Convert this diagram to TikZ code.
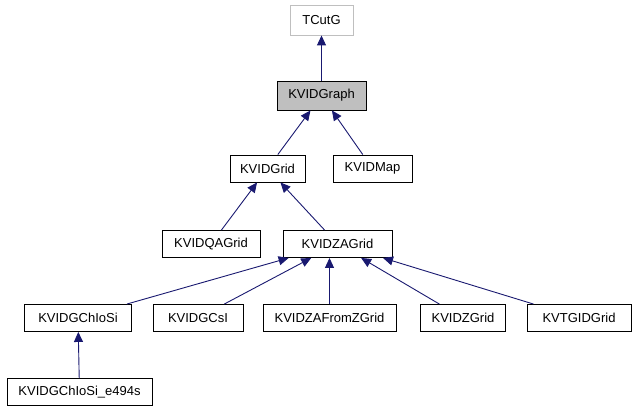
\documentclass[tikz,border=0pt]{standalone}
\usepackage{fontspec}
\setmainfont{Liberation Sans}
\usetikzlibrary{arrows.meta}
\definecolor{edgeblue}{HTML}{191970}
\begin{document}
\begin{tikzpicture}[x=1pt,y=-1pt,
  box/.style={draw=black,line width=0.9pt,fill=white,minimum height=27pt,inner sep=0pt,font=\fontsize{13}{15}\selectfont},
  edge/.style={draw=edgeblue,line width=0.9pt,-{Triangle[length=10pt,width=9pt]}}]
\useasboundingbox (0,0) rectangle (635,411);
\node[box,draw={rgb,255:red,191;green,191;blue,191},minimum width=63pt,minimum height=30pt] (tcutg) at (321.5,20) {TCutG};
\node[box,fill={rgb,255:red,191;green,191;blue,191},minimum width=89pt,minimum height=29pt] (graph) at (321.5,95.5) {KVIDGraph};
\node[box,minimum width=75pt] (grid) at (267.5,168.5) {KVIDGrid};
\node[box,minimum width=79pt] (map) at (372.5,168.5) {KVIDMap};
\node[box,minimum width=98pt] (qa) at (211,244) {KVIDQAGrid};
\node[box,minimum width=109pt] (za) at (337.5,244) {KVIDZAGrid};
\node[box,minimum width=107pt] (chio) at (78,318) {KVIDGChIoSi};
\node[box,minimum width=90pt] (csi) at (198,318) {KVIDGCsI};
\node[box,minimum width=133pt] (fromz) at (329.5,318) {KVIDZAFromZGrid};
\node[box,minimum width=85pt] (zg) at (463,318) {KVIDZGrid};
\node[box,minimum width=104pt] (tgid) at (579,318) {KVTGIDGrid};
\node[box,minimum width=145pt] (e494) at (79.5,392) {KVIDGChIoSi\_e494s};
\draw[edge] (graph) -- (tcutg);
\draw[edge] (grid) -- (graph);
\draw[edge] (map) -- (graph);
\draw[edge] (qa) -- (grid);
\draw[edge] (za) -- (grid);
\draw[edge] (chio) -- (za);
\draw[edge] (csi) -- (za);
\draw[edge] (fromz.north) -- (fromz.north |- za.south);
\draw[edge] (zg) -- (za);
\draw[edge] (tgid) -- (za);
\draw[edge] (e494) -- (chio);
\end{tikzpicture}
\end{document}
